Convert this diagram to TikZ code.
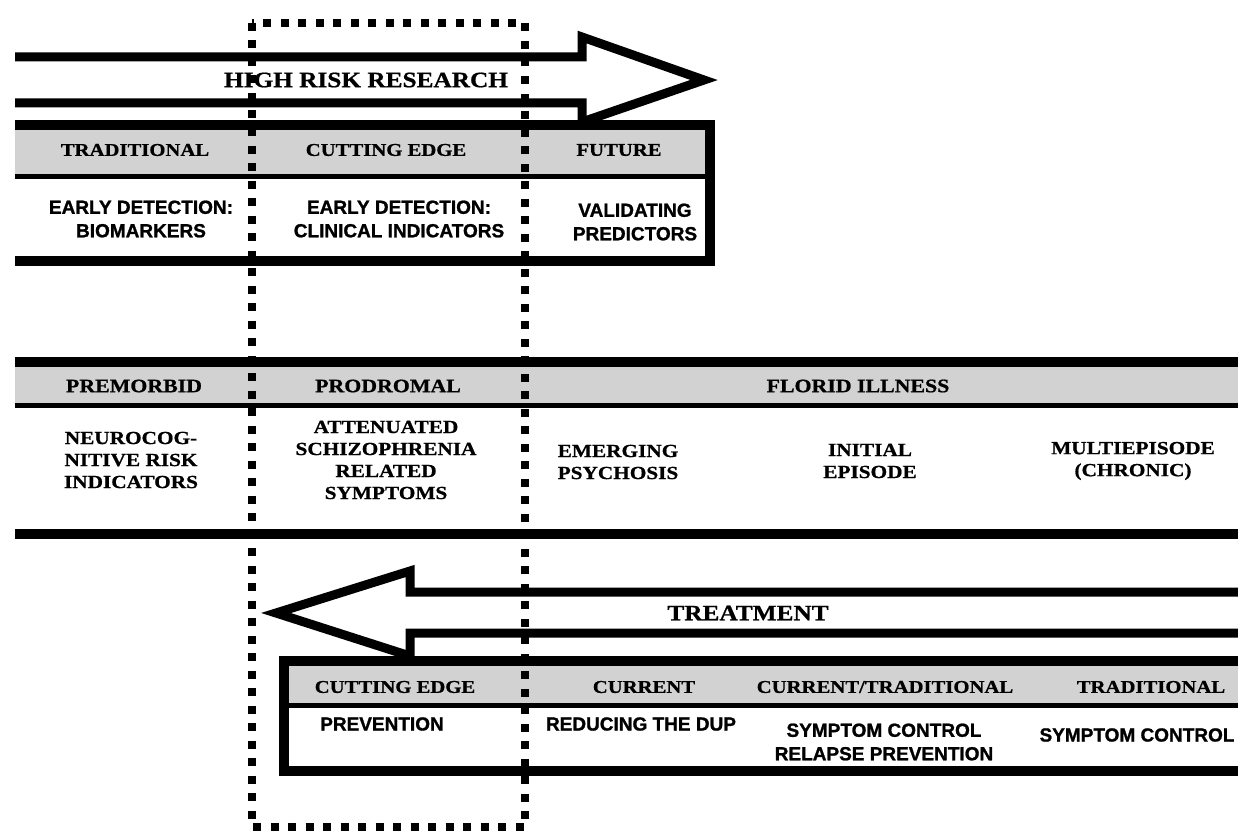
\documentclass[tikz,border=0pt]{standalone}
\usepackage{fontspec}
\newfontfamily\serifhd{Liberation Serif Bold}[FakeStretch=1.15, FakeBold=0.8]
\newfontfamily\sanshd{Liberation Sans Bold}[FakeBold=1.2]
\definecolor{band}{HTML}{D2D2D2}
\begin{document}
\begin{tikzpicture}[x=1pt,y=-1pt,
  thick rule/.style={line width=9.5pt},
  thin rule/.style={line width=5pt},
  arrow outline/.style={line width=9pt, line join=miter},
  hdr/.style={font=\serifhd\fontsize{18}{21}\selectfont, inner sep=0pt, align=center},
  hdrbig/.style={font=\serifhd\fontsize{19}{22}\selectfont, inner sep=0pt, align=center},
  stage/.style={font=\serifhd\fontsize{18.5}{22}\selectfont, inner sep=0pt, align=center},
  task/.style={font=\sanshd\fontsize{19}{23.5}\selectfont, inner sep=0pt, align=center},
  banner/.style={font=\serifhd\fontsize{22}{26}\selectfont, inner sep=0pt},
  window/.style={line width=8pt, dash pattern=on 8pt off 9.5pt}]
\useasboundingbox (0,0) rectangle (1238,832);
\fill[white] (0,0) rectangle (1238,832);

% ---- research arrow (points right) ----
\draw[arrow outline] (15,57) -- (582,57) -- (582,37) -- (704,80) -- (582,122) -- (582,103) -- (15,103);
\node[banner] (hrr) at (366,80) {HIGH RISK RESEARCH};

% ---- research table ----
\fill[band] (15,129) rectangle (706,174);
\draw[thick rule] (15,125) -- (714.75,125);
\draw[thick rule] (710,125) -- (710,261);
\draw[thin rule] (15,176) -- (710,176);
\draw[thick rule] (15,261) -- (714.75,261);
\node[hdr] (r1) at (135,150) {TRADITIONAL};
\node[hdr] (r2) at (386,150) {CUTTING EDGE};
\node[hdr] (r3) at (619,150) {FUTURE};
\node[task] (r4) at (141,219) {EARLY DETECTION:\\BIOMARKERS};
\node[task] (r5) at (399,219) {EARLY DETECTION:\\CLINICAL INDICATORS};
\node[task] (r6) at (635,222) {VALIDATING\\PREDICTORS};

% ---- illness course band ----
\fill[band] (15,366) rectangle (1238,403);
\draw[thick rule] (15,362) -- (1238,362);
\draw[thin rule] (15,405) -- (1238,405);
\draw[thick rule] (15,534) -- (1238,534);
\node[hdrbig] (s1) at (134,386) {PREMORBID};
\node[hdrbig] (s2) at (388,386) {PRODROMAL};
\node[hdrbig] (s3) at (858,386) {FLORID ILLNESS};
\node[stage] (c1) at (131,460) {NEUROCOG-\\NITIVE RISK\\INDICATORS};
\node[stage] (c2) at (386,460) {ATTENUATED\\SCHIZOPHRENIA\\RELATED\\SYMPTOMS};
\node[stage] (c3) at (618,462) {EMERGING\\PSYCHOSIS};
\node[stage] (c4) at (870,461) {INITIAL\\EPISODE};
\node[stage] (c5) at (1133,461) {MULTIEPISODE\\(CHRONIC)};

% ---- treatment arrow (points left) ----
\draw[arrow outline] (1238,592) -- (410,592) -- (410,571) -- (276,613) -- (410,656) -- (410,633) -- (1238,633);
\node[banner] (trt) at (748,613) {TREATMENT};

% ---- treatment table ----
\fill[band] (289,666) rectangle (1238,703);
\draw[thick rule] (279.25,661) -- (1238,661);
\draw[thick rule] (284,661) -- (284,771);
\draw[thin rule] (284,705) -- (1238,705);
\draw[thick rule] (279.25,771) -- (1238,771);
\node[hdr] (t1) at (395,687) {CUTTING EDGE};
\node[hdr] (t2) at (644,687) {CURRENT};
\node[hdr] (t3) at (885,687) {CURRENT/TRADITIONAL};
\node[hdr] (t4) at (1151,687) {TRADITIONAL};
\node[task] (u1) at (382,724) {PREVENTION};
\node[task] (u2) at (641,724) {REDUCING THE DUP};
\node[task] (u3) at (884,742) {SYMPTOM CONTROL\\RELAPSE PREVENTION};
\node[task] (u4) at (1137,735) {SYMPTOM CONTROL};

% ---- dotted window over the prodromal column ----
\draw[window] (252,23) rectangle (525,827);
\end{tikzpicture}
\end{document}
